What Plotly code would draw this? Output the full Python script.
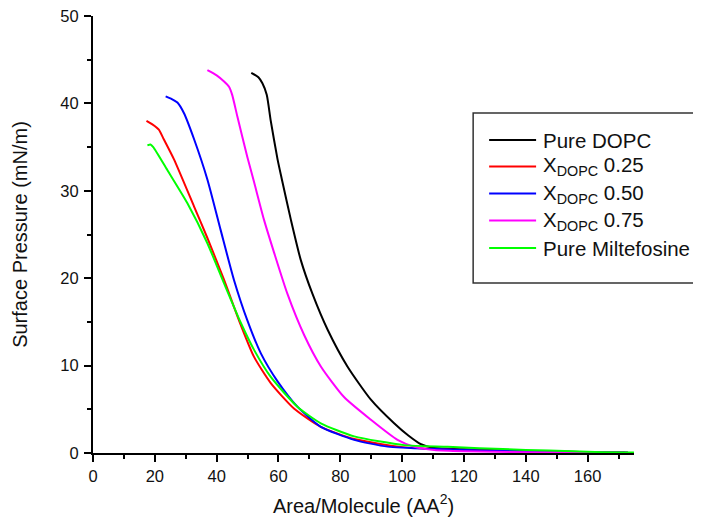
import plotly.graph_objects as go

# Pure DOPC
dopc_x = [51.2, 53.5, 54.8, 56.2, 57.5, 59.7, 61.1, 64.0, 67.2, 71.0, 75.9, 82.3, 89.9, 97.4, 102.0, 106.1, 110.0, 120.0, 130.0, 140.0, 150.0, 160.0, 172.0]
dopc_y = [43.5, 43.0, 42.3, 41.0, 38.0, 33.6, 31.3, 26.7, 22.1, 18.2, 14.1, 9.9, 6.1, 3.4, 2.0, 1.0, 0.6, 0.42, 0.32, 0.24, 0.17, 0.1, 0.05]

# X_DOPC 0.25
x25_x = [17.3, 19.2, 21.3, 22.9, 26.2, 32.7, 37.0, 42.4, 47.2, 52.1, 57.5, 65.0, 73.7, 84.5, 99.6, 110.0, 120.0, 140.0, 160.0, 173.0]
x25_y = [38.0, 37.6, 37.0, 35.9, 33.6, 28.2, 24.6, 19.8, 15.2, 11.0, 8.0, 5.1, 3.0, 1.6, 0.7, 0.45, 0.33, 0.2, 0.1, 0.05]

# X_DOPC 0.50
x50_x = [23.5, 25.5, 27.3, 29.4, 32.7, 37.0, 41.3, 45.6, 49.9, 54.3, 59.7, 66.1, 73.7, 84.5, 95.3, 110.4, 120.0, 140.0, 160.0, 173.0]
x50_y = [40.8, 40.5, 40.1, 38.9, 35.9, 31.3, 25.5, 19.8, 15.2, 11.4, 8.2, 5.3, 3.0, 1.5, 0.73, 0.45, 0.35, 0.2, 0.1, 0.05]

# X_DOPC 0.75
x75_x = [37.0, 40.0, 42.4, 44.0, 45.0, 46.7, 49.9, 52.1, 55.3, 58.6, 62.9, 68.3, 73.7, 81.2, 89.9, 98.5, 104.0, 110.4, 120.0, 140.0, 160.0, 173.0]
x75_y = [43.8, 43.2, 42.5, 41.9, 41.0, 38.5, 33.9, 31.0, 26.7, 22.9, 18.2, 13.5, 9.9, 6.4, 3.8, 1.5, 0.7, 0.34, 0.2, 0.1, 0.05, 0.03]

# Pure Miltefosine
milt_x = [17.6, 18.6, 19.5, 24.0, 30.5, 37.0, 42.4, 47.8, 52.1, 57.5, 66.1, 73.7, 84.5, 100.7, 114.7, 125.0, 140.0, 155.0, 165.0, 175.0]
milt_y = [35.2, 35.3, 35.0, 32.4, 28.6, 24.0, 19.4, 14.9, 11.8, 8.7, 5.3, 3.4, 1.9, 0.9, 0.72, 0.55, 0.35, 0.2, 0.1, 0.05]

names = ["Pure DOPC", "X<sub>DOPC</sub> 0.25", "X<sub>DOPC</sub> 0.50", "X<sub>DOPC</sub> 0.75", "Pure Miltefosine"]
colors = ["#000000", "#ff0000", "#0000ff", "#ff00ff", "#00ff00"]
series = [(dopc_x, dopc_y), (x25_x, x25_y), (x50_x, x50_y), (x75_x, x75_y), (milt_x, milt_y)]

x_ticks = [0, 20, 40, 60, 80, 100, 120, 140, 160]
y_ticks = [0, 10, 20, 30, 40, 50]

FONT = "Liberation Sans, Arial, sans-serif"

fig = go.Figure()
for (xs, ys), name, col in zip(series, names, colors):
    fig.add_trace(go.Scatter(
        x=xs, y=ys, mode="lines", name=name, showlegend=False,
        line=dict(color=col, width=2, shape="spline", smoothing=0.6),
    ))

# page body has an 8px margin: figure coordinates = screen - 8
OFF = 8
W, H = 693, 509
L = 92.5 - OFF
T = 16 - OFF
Rpx = 634 - OFF
Bpx = 453 - OFF
R = W - Rpx
B = H - Bpx
pw, ph = Rpx - L, Bpx - T

def sx(px):  # screen x -> paper
    return (px - OFF - L) / pw

def sy(py):  # screen y -> paper
    return (Bpx - (py - OFF)) / ph

axis_common = dict(
    showline=True, linecolor="black", linewidth=2,
    ticks="outside", ticklen=7, tickwidth=2, tickcolor="black",
    showgrid=False, zeroline=False, layer="below traces", automargin=False,
    ticklabeloverflow="allow",
    tickfont=dict(family=FONT, size=16.5, color="#111"),
)

fig.update_layout(
    width=W, height=H,
    margin=dict(l=L, r=R, t=T, b=B),
    paper_bgcolor="white", plot_bgcolor="white",
    font=dict(family=FONT, color="black"),
    showlegend=False,
    xaxis=dict(range=[0, 175], tickvals=x_ticks, ticktext=[str(v) for v in x_ticks],
               title=dict(text="Area/Molecule (AA<sup>2</sup>)", font=dict(family=FONT, size=20, color="#111"), standoff=15),
               minor=dict(ticks="outside", ticklen=4, tickwidth=2, tickcolor="black", dtick=10, tick0=0, showgrid=False),
               **axis_common),
    yaxis=dict(range=[0, 50], tickvals=y_ticks, ticktext=[str(v) for v in y_ticks],
               title=dict(text="Surface Pressure (mN/m)", font=dict(family=FONT, size=20, color="#111"), standoff=27),
               ticklabelstandoff=2,
               minor=dict(ticks="outside", ticklen=4, tickwidth=2, tickcolor="black", dtick=5, tick0=0, showgrid=False),
               **axis_common),
)

# Legend drawn as a framed box with sample lines and text (screen coordinates)
legend_rows_py = [140, 166.5, 193.5, 220.5, 248]
shapes = [dict(type="rect", xref="paper", yref="paper",
               x0=sx(473), x1=sx(712),
               y0=sy(283), y1=sy(113),
               line=dict(color="#333", width=1.5), fillcolor="rgba(0,0,0,0)", layer="above")]
annotations = []
for name, col, py in zip(names, colors, legend_rows_py):
    shapes.append(dict(type="line", xref="paper", yref="paper",
                       x0=sx(489), x1=sx(536),
                       y0=sy(py), y1=sy(py),
                       line=dict(color=col, width=2)))
    annotations.append(dict(xref="paper", yref="paper", x=sx(541), y=sy(py),
                            xanchor="left", yanchor="middle", showarrow=False, text=name,
                            font=dict(family=FONT, size=20.5, color="#111")))
fig.update_layout(shapes=shapes, annotations=annotations)

fig.write_html("out.html")
